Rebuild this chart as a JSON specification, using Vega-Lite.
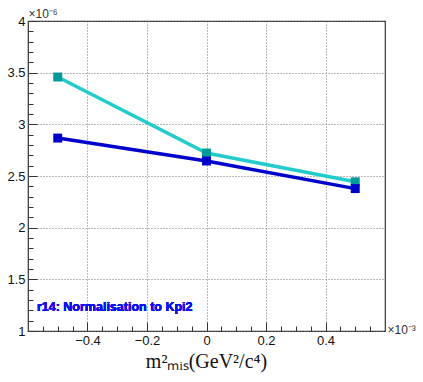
{
  "$schema": "https://vega.github.io/schema/vega-lite/v6.json",
  "width": 357,
  "height": 310,
  "autosize": "none",
  "padding": {"left": 28, "top": 21, "right": 38, "bottom": 51},
  "background": "white",
  "config": {
    "view": {"stroke": "#333", "strokeWidth": 1.2},
    "font": "Liberation Sans"
  },
  "data": {
    "values": [
      {"x": -0.5, "y": 3.458, "s": "A"},
      {"x": 0.0, "y": 2.722, "s": "A"},
      {"x": 0.5, "y": 2.444, "s": "A"},
      {"x": -0.5, "y": 2.867, "s": "B"},
      {"x": 0.0, "y": 2.645, "s": "B"},
      {"x": 0.5, "y": 2.378, "s": "B"}
    ]
  },
  "layer": [
    {
      "mark": {"type": "point", "opacity": 0},
      "encoding": {
        "x": {
          "field": "x", "type": "quantitative",
          "scale": {"domain": [-0.6, 0.6], "nice": false, "zero": false},
          "axis": {
            "orient": "bottom",
            "values": [-0.55, -0.5, -0.45, -0.4, -0.35, -0.3, -0.25, -0.2, -0.15, -0.1, -0.05, 0, 0.05, 0.1, 0.15, 0.2, 0.25, 0.3, 0.35, 0.4, 0.45, 0.5, 0.55],
            "labels": false, "grid": false, "domain": false,
            "tickSize": -5, "tickColor": "#333", "tickWidth": 1,
            "title": "×10⁻³", "titleX": 359, "titleY": 2, "titleAlign": "left",
            "titleBaseline": "alphabetic", "titleFontWeight": "normal",
            "titleFontSize": 12, "titleFont": "Liberation Sans", "titleColor": "#333"
          }
        },
        "y": {
          "field": "y", "type": "quantitative",
          "scale": {"domain": [1, 4], "nice": false, "zero": false},
          "axis": {
            "orient": "left",
            "values": [1.1, 1.2, 1.3, 1.4, 1.6, 1.7, 1.8, 1.9, 2.1, 2.2, 2.3, 2.4, 2.6, 2.7, 2.8, 2.9, 3.1, 3.2, 3.3, 3.4, 3.6, 3.7, 3.8, 3.9],
            "labels": false, "grid": false, "domain": false,
            "tickSize": -5, "tickColor": "#333", "tickWidth": 1, "title": null
          }
        }
      }
    },
    {
      "mark": {"type": "line", "strokeWidth": 3.5},
      "encoding": {
        "x": {
          "field": "x", "type": "quantitative",
          "axis": {
            "orient": "bottom",
            "values": [-0.4, -0.2, 0, 0.2, 0.4],
            "format": "~g",
            "labelFontSize": 13, "labelColor": "#111", "labelPadding": 12,
            "tickSize": -9, "tickColor": "#333", "tickWidth": 1,
            "domain": false,
            "grid": true, "gridColor": "#777", "gridDash": [1, 2], "gridWidth": 1,
            "title": "m²ₘᵢₛ(GeV²/c⁴)",
            "titleFont": "Liberation Serif", "titleFontSize": 20, "titleFontWeight": "normal",
            "titleColor": "#111", "titleX": 178, "titleY": 36, "titleBaseline": "alphabetic"
          }
        },
        "y": {
          "field": "y", "type": "quantitative",
          "axis": {
            "orient": "left",
            "values": [1, 1.5, 2, 2.5, 3, 3.5, 4],
            "format": "~g",
            "labelFontSize": 13, "labelColor": "#111", "labelPadding": 12,
            "tickSize": -9, "tickColor": "#333", "tickWidth": 1,
            "domain": false,
            "grid": true, "gridColor": "#777", "gridDash": [1, 2], "gridWidth": 1,
            "title": "×10⁻⁶", "titleAngle": 0, "titleAlign": "left",
            "titleX": 0, "titleY": -4, "titleBaseline": "alphabetic",
            "titleFontSize": 12, "titleFontWeight": "normal", "titleColor": "#333"
          }
        },
        "color": {
          "field": "s", "type": "nominal",
          "scale": {"domain": ["A", "B"], "range": ["#22cccc", "#0000cc"]},
          "legend": null
        }
      }
    },
    {
      "mark": {"type": "point", "shape": "square", "size": 80, "filled": true, "opacity": 1},
      "encoding": {
        "x": {"field": "x", "type": "quantitative", "axis": null},
        "y": {"field": "y", "type": "quantitative", "axis": null},
        "color": {
          "field": "s", "type": "nominal",
          "scale": {"domain": ["A", "B"], "range": ["#009999", "#0000cc"]},
          "legend": null
        }
      }
    },
    {
      "mark": {"type": "text", "align": "left", "baseline": "middle", "font": "Liberation Sans", "fontWeight": "bold", "fontSize": 12.5, "color": "#1010ee"},
      "encoding": {
        "x": {"datum": -0.57, "type": "quantitative", "axis": null},
        "y": {"datum": 1.23, "type": "quantitative", "axis": null},
        "text": {"value": "r14: Normalisation to Kpi2"}
      }
    }
  ],
  "resolve": {
    "axis": {"x": "independent", "y": "independent"},
    "scale": {"color": "independent"}
  }
}
